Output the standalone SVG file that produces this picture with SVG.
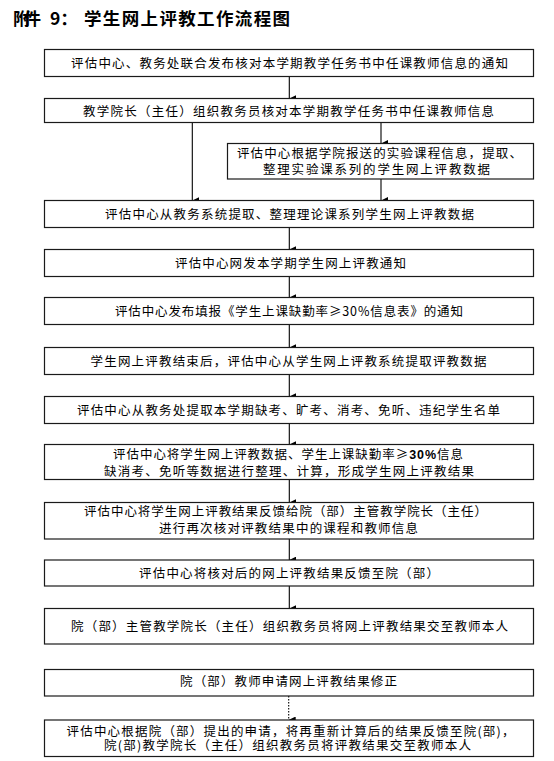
<svg xmlns="http://www.w3.org/2000/svg" width="554" height="761" viewBox="0 0 554 761">
<style>
.box{fill:#fff;stroke:#1a1a1a;stroke-width:1.2}
.t{font-family:"Noto Sans CJK SC","Noto Sans",sans-serif;font-size:12.5px;fill:#000}
.title{font-family:"Noto Sans CJK SC","Noto Sans",sans-serif;font-size:17.5px;font-weight:bold;fill:#000}
.c{stroke:#000;stroke-width:1.1;fill:none}
.d{stroke:#000;stroke-width:1.1;fill:none;stroke-dasharray:1.5,1.5}
.b{font-family:"Liberation Sans",sans-serif;font-weight:bold}
</style>
<defs>
<marker id="ah" viewBox="0 0 7 7" refX="3.5" refY="7" markerWidth="7" markerHeight="7" markerUnits="userSpaceOnUse" orient="auto">
<path d="M0,0 L7,0 L3.5,7 Z" fill="#000"/>
</marker>
</defs>
<rect width="554" height="761" fill="#fff"/>
<text class="title" y="25"><tspan x="13" textLength="28">附件</tspan><tspan x="50">9：</tspan><tspan x="84" textLength="206">学生网上评教工作流程图</tspan></text>

<g id="connectors">
<line class="c" x1="289.3" y1="76.5" x2="289.3" y2="98.5" marker-end="url(#ah)"/>
<line class="c" x1="192.3" y1="122.5" x2="192.3" y2="200.5" marker-end="url(#ah)"/>
<line class="c" x1="381" y1="122.5" x2="381" y2="143.5" marker-end="url(#ah)"/>
<line class="c" x1="381" y1="179" x2="381" y2="200.5" marker-end="url(#ah)"/>
<line class="c" x1="289.3" y1="227.5" x2="289.3" y2="249.5" marker-end="url(#ah)"/>
<line class="c" x1="289.3" y1="276.5" x2="289.3" y2="297.5" marker-end="url(#ah)"/>
<line class="c" x1="289.3" y1="324.5" x2="289.3" y2="347.5" marker-end="url(#ah)"/>
<line class="c" x1="289.3" y1="374.5" x2="289.3" y2="396.5" marker-end="url(#ah)"/>
<line class="c" x1="289.3" y1="423.5" x2="289.3" y2="444.5" marker-end="url(#ah)"/>
<line class="c" x1="289.3" y1="479.5" x2="289.3" y2="502.5" marker-end="url(#ah)"/>
<line class="c" x1="289.3" y1="539" x2="289.3" y2="560" marker-end="url(#ah)"/>
<line class="c" x1="289.3" y1="586" x2="289.3" y2="608.5" marker-end="url(#ah)"/>
<line class="d" x1="288.7" y1="696" x2="288.7" y2="720" marker-end="url(#ah)"/>
</g>

<g id="n1"><rect class="box" x="44.5" y="49.5" width="489" height="27"/><text class="t" x="71" y="68" textLength="437">评估中心、教务处联合发布核对本学期教学任务书中任课教师信息的通知</text></g>
<g id="n2"><rect class="box" x="44.5" y="98.5" width="489" height="24"/><text class="t" x="83" y="115.5" textLength="411">教学院长（主任）组织教务员核对本学期教学任务书中任课教师信息</text></g>
<g id="n3"><rect class="box" x="227.5" y="143.5" width="306" height="35.5"/><text class="t" x="237" y="158" textLength="285">评估中心根据学院报送的实验课程信息，提取、</text><text class="t" x="263" y="173.5" textLength="227">整理实验课系列的学生网上评教数据</text></g>
<g id="n4"><rect class="box" x="44.5" y="200.5" width="489" height="27"/><text class="t" x="105" y="219" textLength="369">评估中心从教务系统提取、整理理论课系列学生网上评教数据</text></g>
<g id="n5"><rect class="box" x="44.5" y="249.5" width="489" height="27"/><text class="t" x="175" y="267.5" textLength="231">评估中心网发本学期学生网上评教通知</text></g>
<g id="n6"><rect class="box" x="44.5" y="297.5" width="489" height="27"/><text class="t" x="115" y="315.5" textLength="348">评估中心发布填报《学生上课缺勤率≥30%信息表》的通知</text></g>
<g id="n7"><rect class="box" x="44.5" y="347.5" width="489" height="27"/><text class="t" x="90.5" y="365.5" textLength="396">学生网上评教结束后，评估中心从学生网上评教系统提取评教数据</text></g>
<g id="n8"><rect class="box" x="44.5" y="396.5" width="489" height="27"/><text class="t" x="77" y="414.5" textLength="423">评估中心从教务处提取本学期缺考、旷考、消考、免听、违纪学生名单</text></g>
<g id="n9"><rect class="box" x="44.5" y="444.5" width="489" height="35"/><text class="t" x="113" y="459" textLength="350">评估中心将学生网上评教数据、学生上课缺勤率≥<tspan class="b">30%</tspan>信息</text><text class="t" x="104" y="476" textLength="370">缺消考、免听等数据进行整理、计算，形成学生网上评教结果</text></g>
<g id="n10"><rect class="box" x="44.5" y="502.5" width="489" height="36.5"/><text class="t" x="84" y="516" textLength="403">评估中心将学生网上评教结果反馈给院（部）主管教学院长（主任）</text><text class="t" x="159" y="533" textLength="259">进行再次核对评教结果中的课程和教师信息</text></g>
<g id="n11"><rect class="box" x="44.5" y="560" width="489" height="26"/><text class="t" x="139" y="577.5" textLength="300">评估中心将核对后的网上评教结果反馈至院（部）</text></g>
<g id="n12"><rect class="box" x="44.5" y="608.5" width="489" height="35.5"/><text class="t" x="71" y="631" textLength="437">院（部）主管教学院长（主任）组织教务员将网上评教结果交至教师本人</text></g>
<g id="n13"><rect class="box" x="44.5" y="669.5" width="489" height="26.5"/><text class="t" x="180" y="686" textLength="217">院（部）教师申请网上评教结果修正</text></g>
<g id="n14"><rect class="box" x="44.5" y="720" width="489" height="36.5"/><text class="t" x="66.5" y="736" textLength="448">评估中心根据院（部）提出的申请，将再重新计算后的结果反馈至院(部)，</text><text class="t" x="104" y="749.5" textLength="367">院(部)教学院长（主任）组织教务员将评教结果交至教师本人</text></g>
</svg>
